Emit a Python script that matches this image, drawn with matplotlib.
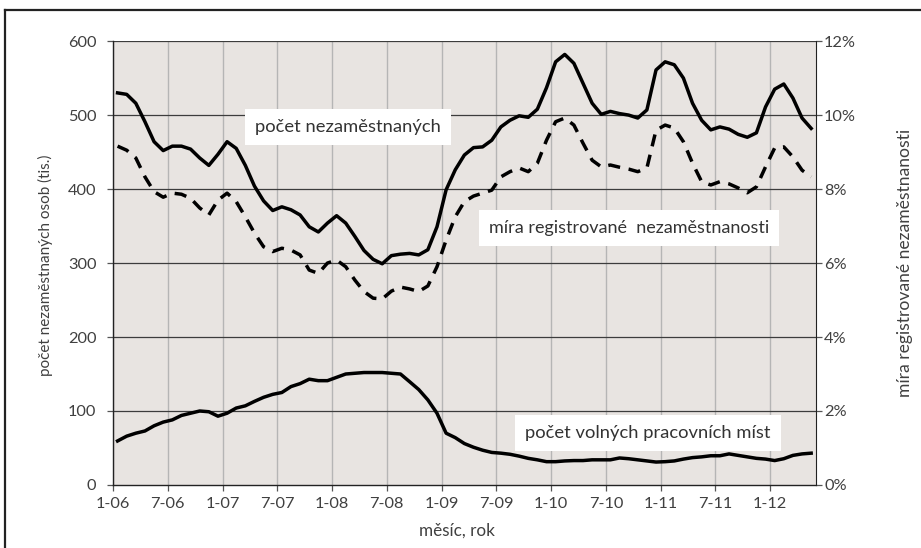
import matplotlib.pyplot as plt
import matplotlib.ticker as mticker
from matplotlib.lines import Line2D

# monthly values, 1-06 .. 5-12
unemployed = [530, 528, 516, 491, 464, 452, 458, 458, 454, 442, 432, 447,
              464, 455, 432, 404, 384, 371, 376, 372, 365, 349, 342, 354,
              364, 354, 336, 317, 305, 299, 310, 312, 313, 311, 318, 349,
              399, 426, 446, 456, 457, 466, 484, 493, 499, 497, 508, 537,
              572, 582, 570, 543, 516, 501, 505, 502, 500, 496, 507, 561,
              572, 568, 550, 516, 493, 480, 484, 481, 474, 470, 476, 511,
              535, 542, 523, 496, 482]
rate = [9.16, 9.05, 8.84, 8.33, 7.93, 7.78, 7.89, 7.86, 7.75, 7.49, 7.30, 7.70,
        7.89, 7.66, 7.25, 6.81, 6.44, 6.31, 6.40, 6.35, 6.22, 5.81, 5.72, 6.00,
        6.08, 5.90, 5.54, 5.23, 5.05, 5.03, 5.24, 5.35, 5.30, 5.23, 5.38, 5.90,
        6.62, 7.25, 7.66, 7.81, 7.89, 7.97, 8.33, 8.47, 8.57, 8.47, 8.70, 9.32,
        9.82, 9.92, 9.73, 9.24, 8.78, 8.60, 8.65, 8.59, 8.54, 8.47, 8.57, 9.59,
        9.73, 9.65, 9.28, 8.70, 8.20, 8.11, 8.20, 8.14, 8.03, 7.90, 8.06, 8.60,
        9.11, 9.14, 8.87, 8.51, 8.33]
vacancies = [59.5, 66, 70, 73, 80, 85, 88, 94, 97, 100, 99, 93,
             97, 104, 107, 113, 118.5, 122.5, 125, 133, 137, 143, 141, 141,
             145.5, 150, 151, 152, 152, 152, 151, 150, 139.6, 129, 115, 97,
             70, 64, 56, 51, 47, 44, 43, 41.5, 39, 36, 34, 31.5,
             31.5, 32.5, 33, 33, 34, 34, 34, 36.5, 35.5, 34, 32.5, 31,
             31.5, 32.5, 35, 37, 38, 39.5, 39.5, 42, 40, 38, 36, 35,
             33, 35.5, 40, 42, 43]
tick_labels = ["1-06", "7-06", "1-07", "7-07", "1-08", "7-08", "1-09",
               "7-09", "1-10", "7-10", "1-11", "7-11", "1-12"]

plt.rcParams["font.family"] = ["Lato", "DejaVu Sans"]
txt_col = "#404040"

fig = plt.figure(figsize=(9.21, 5.48), dpi=100)
ax = fig.add_axes([0.1227, 0.115, 0.763, 0.81])
ax.set_facecolor("#E8E4E1")

n = len(unemployed)
x = [i + 0.5 for i in range(n)]

# grid
for t in range(0, 73, 6):
    ax.axvline(t, color="#B5B5B5", lw=1.0, zorder=1)
for v in range(100, 601, 100):
    ax.axhline(v, color="#3C3C3C", lw=0.9, zorder=1)

ax.plot(x, unemployed, color="black", lw=2.5, zorder=3, solid_joinstyle="round")
ax.plot(x, vacancies, color="black", lw=2.5, zorder=3, solid_joinstyle="round")

ax.set_xlim(0, n)
ax.set_ylim(0, 600)
ax.set_yticks(range(0, 601, 100))
ax.set_xticks(range(0, 73, 6))
ax.set_xticklabels(tick_labels)
ax.tick_params(axis="both", labelsize=11.8, labelcolor=txt_col, color="#555555",
               direction="out", length=4, width=0.9)
ax.tick_params(axis="x", pad=5)
ax.tick_params(axis="y", pad=8)
for s in ["top", "right"]:
    ax.spines[s].set_visible(False)
for s in ["left", "bottom"]:
    ax.spines[s].set_color("#222222")
    ax.spines[s].set_linewidth(1.0)

ax.set_ylabel("počet nezaměstnaných osob (tis.)", fontsize=11, color=txt_col)
ax.yaxis.set_label_coords(-0.086, 0.495)
ax.set_xlabel("měsíc, rok", fontsize=12.3, color=txt_col)
ax.xaxis.set_label_coords(0.49, -0.085)

ax2 = ax.twinx()
ax2.plot(x, rate, color="black", lw=2.5, linestyle=(0, (3.5, 2.5)), zorder=3)
ax2.set_ylim(0, 12)
ax2.set_yticks(range(0, 13, 2))
ax2.yaxis.set_major_formatter(mticker.FuncFormatter(lambda v, p: f"{int(v)}%"))
ax2.tick_params(axis="y", labelsize=11.8, labelcolor=txt_col, color="#555555",
                direction="out", length=4, width=0.9, pad=2)
for s in ["top", "left", "bottom"]:
    ax2.spines[s].set_visible(False)
ax2.spines["right"].set_color("#222222")
ax2.set_ylabel("míra registrované nezaměstnanosti", fontsize=12.6, color=txt_col)
ax2.yaxis.set_label_coords(1.116, 0.5)

box = dict(boxstyle="square,pad=0.55", facecolor="white", edgecolor="none")
ax2.text(25.75, 484 / 50, "počet nezaměstnaných", fontsize=13.2, color="#333333",
         ha="center", va="center", bbox=box, zorder=5)
ax2.text(56.5, 347 / 50, "míra registrované  nezaměstnanosti", fontsize=13.0,
         color="#333333", ha="center", va="center", bbox=box, zorder=5)
ax2.text(58.6, 70 / 50, "počet volných pracovních míst", fontsize=13.2,
         color="#333333", ha="center", va="center", bbox=box, zorder=5)

# outer frame (cropped)
fx = 5 / 921
fy = 1 - 10 / 548
fig.add_artist(Line2D([fx, fx], [0, fy], transform=fig.transFigure,
                      color="#222222", lw=1.6))
fig.add_artist(Line2D([fx, 1], [fy, fy], transform=fig.transFigure,
                      color="#222222", lw=1.6))

fig.savefig("out.png", dpi=100)
